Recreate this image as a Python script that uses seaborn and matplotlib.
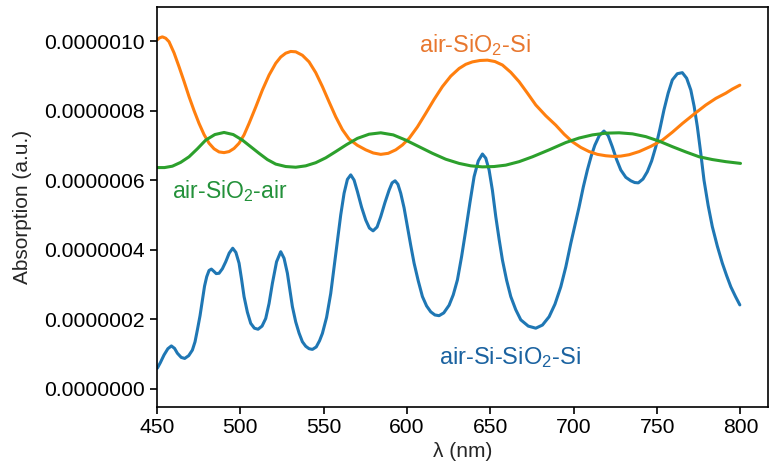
import matplotlib
matplotlib.use("Agg")
import matplotlib.pyplot as plt
import seaborn as sns
import pandas as pd
from matplotlib.ticker import FormatStrFormatter

# ---- data, absorption in units of 1e-6 ----
blue_wl = [450.2, 452.0, 454.2, 456.5, 458.6, 460.5, 462.2, 464.5, 466.6, 469.0,
           471.2, 472.8, 474.2, 475.8, 477.2, 478.5, 479.8, 481.2, 482.6, 484.0,
           485.5, 487.2, 489.2, 491.2, 493.3, 495.4, 497.3, 499.2, 500.7, 502.2,
           504.2, 506.2, 508.4, 510.6, 513.0, 515.2, 517.2, 519.2, 521.7, 524.2,
           526.2, 528.2, 529.7, 531.2, 533.2, 535.2, 537.2, 539.2, 541.2, 543.2,
           545.5, 547.5, 549.2, 551.7, 554.2, 556.2, 558.2, 560.2, 562.2, 564.2,
           566.2, 568.2, 570.2, 572.7, 575.2, 577.4, 579.6, 582.0, 584.2, 586.7,
           589.2, 591.0, 592.8, 594.5, 596.2, 598.2, 600.2, 602.2, 604.2, 606.7,
           609.2, 611.7, 614.2, 616.7, 619.2, 622.0, 625.2, 627.7, 630.2, 632.7,
           635.2, 637.7, 640.2, 642.7, 645.2, 647.2, 649.2, 651.2, 653.2, 655.2,
           657.2, 659.7, 662.2, 665.2, 668.2, 672.7, 677.2, 681.2, 685.2, 688.7,
           692.2, 695.2, 698.2, 700.7, 703.2, 705.7, 708.2, 710.5, 712.6, 715.3,
           718.1, 720.6, 723.1, 725.6, 728.2, 731.2, 734.2, 736.5, 738.7, 741.5,
           744.1, 746.7, 749.2, 751.7, 754.1, 756.6, 759.1, 762.1, 765.1, 767.7,
           770.2, 772.2, 774.1, 776.1, 778.1, 780.6, 783.1, 786.1, 789.1, 791.7,
           794.2, 797.0, 799.6]
blue_val = [0.059, 0.075, 0.097, 0.115, 0.123, 0.116, 0.102, 0.090, 0.087, 0.095,
            0.111, 0.135, 0.169, 0.210, 0.255, 0.295, 0.322, 0.340, 0.344, 0.338,
            0.331, 0.332, 0.345, 0.365, 0.390, 0.404, 0.392, 0.361, 0.315, 0.265,
            0.220, 0.188, 0.174, 0.171, 0.180, 0.202, 0.245, 0.303, 0.365, 0.394,
            0.375, 0.332, 0.285, 0.236, 0.192, 0.160, 0.135, 0.122, 0.115, 0.113,
            0.120, 0.138, 0.159, 0.205, 0.274, 0.350, 0.428, 0.500, 0.562, 0.602,
            0.615, 0.600, 0.567, 0.522, 0.485, 0.462, 0.454, 0.465, 0.495, 0.535,
            0.571, 0.592, 0.598, 0.588, 0.562, 0.520, 0.466, 0.412, 0.361, 0.310,
            0.265, 0.238, 0.221, 0.212, 0.210, 0.218, 0.240, 0.270, 0.313, 0.380,
            0.456, 0.535, 0.610, 0.655, 0.675, 0.663, 0.629, 0.570, 0.495, 0.430,
            0.370, 0.312, 0.265, 0.227, 0.198, 0.180, 0.174, 0.183, 0.207, 0.243,
            0.293, 0.350, 0.418, 0.470, 0.523, 0.580, 0.630, 0.670, 0.700, 0.728,
            0.741, 0.728, 0.696, 0.660, 0.629, 0.608, 0.598, 0.593, 0.592, 0.603,
            0.624, 0.655, 0.696, 0.748, 0.802, 0.850, 0.888, 0.906, 0.909, 0.893,
            0.859, 0.812, 0.754, 0.680, 0.600, 0.527, 0.466, 0.410, 0.361, 0.325,
            0.293, 0.265, 0.241]

orange_wl = [450.0, 451.5, 453.2, 455.2, 457.2, 460.2, 463.2, 466.2, 469.2, 472.2,
             475.2, 478.2, 481.2, 484.2, 487.2, 490.2, 493.2, 496.2, 499.2, 502.2,
             505.2, 509.2, 513.2, 517.2, 521.2, 524.2, 527.2, 530.2, 533.2, 537.2,
             541.2, 545.2, 549.2, 553.2, 557.2, 561.2, 565.2, 570.2, 575.2, 579.7,
             584.2, 588.7, 593.2, 597.2, 601.2, 606.2, 611.2, 616.2, 621.2, 626.2,
             631.2, 635.2, 639.2, 643.7, 648.2, 652.7, 657.2, 662.2, 667.2, 672.2,
             677.2, 683.2, 689.2, 694.2, 699.2, 704.2, 709.2, 714.2, 719.2, 724.2,
             728.2, 733.2, 739.2, 746.2, 753.2, 759.2, 765.2, 772.2, 779.2, 785.2,
             791.2, 795.2, 799.6]
orange_val = [1.003, 1.009, 1.012, 1.008, 0.998, 0.966, 0.926, 0.884, 0.840, 0.800,
              0.763, 0.731, 0.706, 0.690, 0.681, 0.679, 0.682, 0.691, 0.706, 0.730,
              0.763, 0.810, 0.859, 0.902, 0.936, 0.954, 0.965, 0.970, 0.969, 0.959,
              0.940, 0.909, 0.869, 0.825, 0.782, 0.745, 0.718, 0.700, 0.687, 0.678,
              0.674, 0.677, 0.687, 0.701, 0.720, 0.753, 0.792, 0.832, 0.869, 0.899,
              0.921, 0.933, 0.940, 0.944, 0.945, 0.941, 0.931, 0.910, 0.883, 0.850,
              0.816, 0.785, 0.758, 0.732, 0.710, 0.694, 0.682, 0.674, 0.670, 0.668,
              0.669, 0.673, 0.682, 0.697, 0.715, 0.738, 0.763, 0.790, 0.816, 0.835,
              0.850, 0.862, 0.873]

green_wl = [450.0, 454.5, 459.2, 464.2, 469.2, 474.2, 479.2, 484.7, 490.2, 495.7,
            501.2, 506.2, 511.2, 516.2, 521.2, 527.2, 533.2, 539.2, 545.2, 551.2,
            557.2, 563.7, 570.2, 577.2, 584.2, 591.7, 599.2, 607.2, 615.2, 623.2,
            631.2, 638.2, 645.2, 652.2, 659.2, 667.2, 675.2, 685.2, 695.2, 703.2,
            711.2, 719.2, 727.2, 735.2, 743.2, 751.2, 759.2, 767.2, 775.2, 783.2,
            791.2, 800.0]
green_val = [0.636, 0.636, 0.640, 0.651, 0.667, 0.690, 0.715, 0.731, 0.737, 0.731,
             0.715, 0.696, 0.677, 0.659, 0.646, 0.639, 0.637, 0.641, 0.650, 0.664,
             0.682, 0.702, 0.720, 0.732, 0.736, 0.730, 0.715, 0.696, 0.677, 0.660,
             0.648, 0.641, 0.638, 0.639, 0.643, 0.653, 0.667, 0.687, 0.708, 0.721,
             0.730, 0.735, 0.736, 0.733, 0.725, 0.712, 0.696, 0.681, 0.667, 0.659,
             0.653, 0.648]

series_names = ["air-Si-SiO$_2$-Si", "air-SiO$_2$-Si", "air-SiO$_2$-air"]
x_ticks = [450, 500, 550, 600, 650, 700, 750, 800]
y_ticks = [0.0, 0.2e-6, 0.4e-6, 0.6e-6, 0.8e-6, 1.0e-6]

scale = 1e-6
frames = []
for name, wl, val in zip(series_names,
                         [blue_wl, orange_wl, green_wl],
                         [blue_val, orange_val, green_val]):
    frames.append(pd.DataFrame({"wl": wl, "abs": [v * scale for v in val], "series": name}))
df = pd.concat(frames, ignore_index=True)

sns.set_style("ticks")
plt.rcParams["font.family"] = ["Liberation Sans", "DejaVu Sans"]
plt.rcParams["mathtext.fontset"] = "custom"
plt.rcParams["mathtext.rm"] = "Liberation Sans"
plt.rcParams["mathtext.it"] = "Liberation Sans:italic"

fig = plt.figure(figsize=(7.69, 4.74), dpi=100)
ax = fig.add_axes([0.2042, 0.142, 0.7945, 0.8426])

palette = {series_names[0]: "#1f77b4", series_names[1]: "#ff7f0e", series_names[2]: "#2ca02c"}
sns.lineplot(data=df, x="wl", y="abs", hue="series", palette=palette, sort=False,
             estimator=None, linewidth=2.2, legend=False, ax=ax)
for ln in ax.lines:
    ln.set_solid_joinstyle("round")

ax.set_xlim(450, 816.5)
ax.set_ylim(-0.0518e-6, 1.097e-6)
ax.set_xticks(x_ticks)
ax.set_yticks(y_ticks)
ax.yaxis.set_major_formatter(FormatStrFormatter("%.7f"))
ax.tick_params(labelsize=15.2, direction="out", length=5, width=1.2, colors="black")
for s in ax.spines.values():
    s.set_linewidth(1.2)
    s.set_color("black")
    s.set_visible(True)

ax.set_xlabel("λ (nm)", fontsize=15, labelpad=3)
ax.set_ylabel("Absorption (a.u.)", fontsize=15, labelpad=9)

ax.text(607.2, 0.9669e-6, series_names[1], color="#e8772e", fontsize=16.8,
        ha="left", va="baseline")
ax.text(459.0, 0.5476e-6, series_names[2], color="#23913a", fontsize=16.5,
        ha="left", va="baseline")
ax.text(619.2, 0.0702e-6, series_names[0], color="#1a62a0", fontsize=17,
        ha="left", va="baseline")

fig.savefig("out.png", dpi=100)
